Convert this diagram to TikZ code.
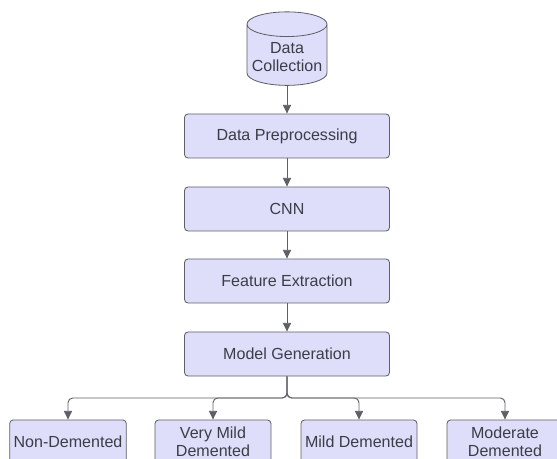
\documentclass[tikz,border=0pt]{standalone}
\usepackage{fontspec}
\setmainfont{Liberation Sans}
\usetikzlibrary{arrows.meta,shapes.geometric}
\definecolor{boxfill}{RGB}{222,222,250}
\definecolor{boxline}{RGB}{94,96,104}
\definecolor{boxtext}{RGB}{58,62,70}
\tikzset{
  stage/.style={draw=boxline,fill=boxfill,rounded corners=3pt,line width=0.7pt,
    text=boxtext,align=center,font=\fontsize{13.7}{15.4}\selectfont,
    minimum width=6.15cm,minimum height=1.32cm},
  leaf/.style={stage,minimum width=3.48cm},
  flow/.style={draw=boxline,line width=0.8pt,rounded corners=4pt,
    -{Triangle[length=7.5pt,width=7pt]}}
}
\begin{document}
\begin{tikzpicture}[x=0.03cm,y=-0.03cm]
        \useasboundingbox (0,0) rectangle (557,459);
        \node[cylinder,shape border rotate=90,aspect=0.35,draw=boxline,fill=boxfill,line width=0.7pt,
          text=boxtext,font=\fontsize{13.7}{15.4}\selectfont,
          minimum width=2.4cm,minimum height=2.16cm,inner sep=0pt](dc)at(287,55)
          {\raisebox{-3.5pt}[\height][\depth]{\begin{tabular}{@{}c@{}}Data\\Collection\end{tabular}}};
        \node[stage](pre)at(287,136){Data Preprocessing};
        \node[stage](cnn)at(287,209){CNN};
        \node[stage](fe)at(287,281){Feature Extraction};
        \node[stage](mg)at(287,354){Model Generation};
        \node[leaf](nd)at(68,442){Non-Demented};
        \node[leaf](vmd)at(213,442){Very Mild\\Demented};
        \node[leaf](md)at(359,442){Mild Demented};
        \node[leaf](mod)at(505,442){Moderate\\Demented};
        \coordinate (split) at (287,398);
        \draw[flow](dc)--(pre);
        \draw[flow](pre)--(cnn);
        \draw[flow](cnn)--(fe);
        \draw[flow](fe)--(mg);
        \foreach \c in {nd,vmd,md,mod} \draw[flow](mg.south)--(split)-|(\c.north);
    \end{tikzpicture}
\end{document}
